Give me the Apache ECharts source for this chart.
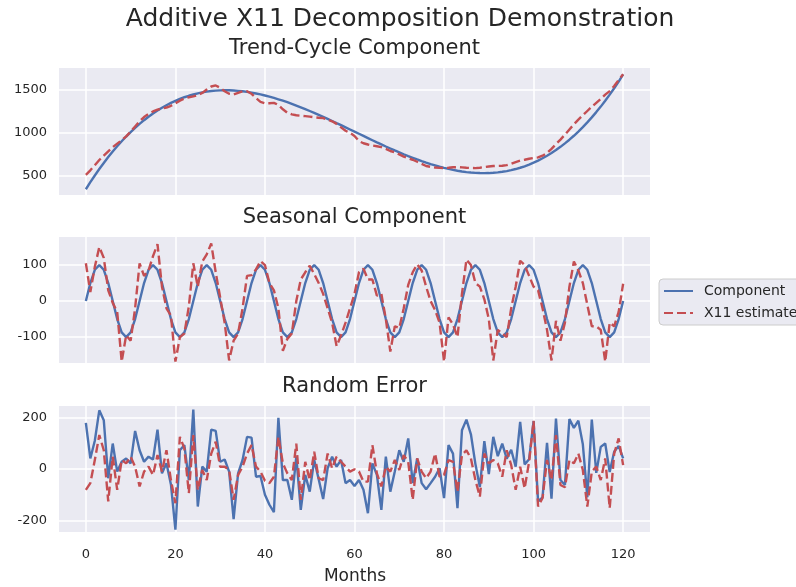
<!DOCTYPE html>
<html><head><meta charset="utf-8">
<script src="https://cdn.jsdelivr.net/npm/echarts@6/dist/echarts.min.js"></script>
<style>html,body{margin:0;padding:0;background:#fff}#c{width:796px;height:587px}</style>
</head><body><div id="c"></div>
<script>
// Months 0..120
const months = [];
for (let m = 0; m <= 120; m++) months.push(m);
const xTicks = [0, 20, 40, 60, 80, 100, 120];

const trendComponent = [340,422,500,575,646,714,779,840,898,953,1005,1054,1100,1143,1183,1221,1255,1287,1317,1344,1368,1390,1410,1427,1442,1455,1466,1475,1482,1487,1490,1491,1491,1488,1484,1479,1472,1464,1454,1443,1430,1417,1402,1386,1370,1352,1333,1313,1293,1272,1250,1228,1205,1182,1158,1134,1109,1085,1060,1035,1010,985,960,935,910,885,861,837,814,791,769,747,726,706,686,667,649,632,617,602,588,576,565,555,546,539,534,530,528,527,528,531,536,543,551,562,575,590,607,627,649,673,700,730,762,796,833,874,916,962,1011,1063,1118,1176,1237,1301,1369,1440,1515,1592,1675];
const trendEstimate = [508,560,620,680,730,780,830,870,910,955,1010,1070,1130,1180,1215,1245,1265,1280,1290,1310,1340,1370,1395,1410,1420,1435,1460,1500,1535,1547,1520,1480,1450,1442,1460,1478,1480,1450,1400,1355,1340,1340,1345,1320,1270,1230,1210,1200,1195,1190,1185,1178,1172,1168,1150,1130,1100,1060,1020,995,960,900,875,860,848,840,830,810,785,770,745,720,700,683,660,635,610,600,592,588,586,590,595,597,594,590,587,586,590,598,605,610,612,613,620,635,655,672,683,695,703,710,730,761,810,865,917,975,1035,1095,1150,1200,1250,1300,1345,1390,1440,1481,1540,1610,1676];

const seasonalComponent = [0,50,87,100,87,50,0,-50,-87,-100,-87,-50,0,50,87,100,87,50,0,-50,-87,-100,-87,-50,0,50,87,100,87,50,0,-50,-87,-100,-87,-50,0,50,87,100,87,50,0,-50,-87,-100,-87,-50,0,50,87,100,87,50,0,-50,-87,-100,-87,-50,0,50,87,100,87,50,0,-50,-87,-100,-87,-50,0,50,87,100,87,50,0,-50,-87,-100,-87,-50,0,50,87,100,87,50,0,-50,-87,-100,-87,-50,0,50,87,100,87,50,0,-50,-87,-100,-87,-50,0,50,87,100,87,50,0,-50,-87,-100,-87,-50,0];
const seasonalEstimate = [105,25,95,150,120,30,-5,-30,-168,-95,-110,-20,105,70,85,125,158,40,-20,-40,-168,-100,-90,-15,105,40,110,130,160,80,10,-60,-165,-110,-90,-20,70,72,88,111,100,50,30,-20,-138,-105,-90,0,60,80,98,75,50,20,-20,-60,-125,-95,-60,-20,20,80,90,60,60,15,20,-50,-140,-70,-75,-20,45,80,102,85,40,0,-25,-60,-168,-45,-65,-100,20,115,100,50,40,5,-50,-165,-80,-90,-100,-20,40,112,100,70,40,30,-20,-80,-165,-55,-110,-60,40,110,85,50,-10,-70,-70,-80,-168,-60,-70,-30,48];

const errorComponent = [179,41,110,228,190,-36,99,-10,28,41,22,148,73,28,48,37,153,-17,22,-60,-236,73,93,-43,231,-146,9,-10,153,148,28,37,-10,-195,-17,35,125,122,-30,-27,-100,-139,-168,199,-43,-43,-120,48,-159,-23,-88,35,-40,-117,3,48,9,35,-55,-43,-66,-43,-81,-172,22,-23,-159,48,-88,-10,73,28,119,-55,41,-55,-79,-55,-30,3,-113,93,60,-152,151,192,135,20,-70,108,-20,125,50,99,40,75,9,183,18,38,186,-126,-110,102,-115,196,-43,-62,194,160,188,96,-110,192,-15,86,99,-12,67,90,41];
const errorEstimate = [-81,-55,35,132,73,-126,48,-81,35,22,48,9,-68,-10,9,-23,54,-10,73,-43,-133,125,80,-94,132,-81,-4,-43,60,106,9,9,-4,-120,-23,9,60,93,9,-10,-46,-55,-30,125,22,-17,-43,99,-120,28,-43,67,-36,-43,60,3,48,28,9,-10,-1,-10,-49,-49,93,-17,-68,9,-10,35,-4,54,28,-120,41,-10,-36,-10,60,-30,-23,35,28,-88,54,73,41,-43,-107,60,22,35,22,-30,73,15,-81,9,-75,28,187,-146,-113,35,-43,132,-62,-71,35,22,60,-4,-146,-10,9,-43,41,-152,60,119,15];

const trendTicks = [500, 1000, 1500];
const seasonalTicks = [-100, 0, 100];
const errorTicks = [-200, 0, 200];

const mainTitle = 'Additive X11 Decomposition Demonstration';
const panelTitles = ['Trend-Cycle Component', 'Seasonal Component', 'Random Error'];
const seriesNames = ['Component', 'X11 estimate'];
const xLabel = 'Months';

const BLUE = '#4c72b0', RED = '#c44e52', TXT = '#262626', BG = '#eaeaf2';
const FONT = 'DejaVu Sans';

function pairs(arr) { return arr.map((v, i) => [months[i], v]); }

const grids = [
  {left: 59, top: 68, width: 591, height: 127},
  {left: 59, top: 237, width: 591, height: 126},
  {left: 59, top: 406, width: 591, height: 126}
].map(g => Object.assign(g, {show: true, backgroundColor: BG, borderWidth: 0, containLabel: false}));

const yRanges = [[273, 1750, trendTicks], [-172, 178, seasonalTicks], [-245, 245, errorTicks]];

const xAxes = [0, 1, 2].map(i => ({
  type: 'value', gridIndex: i, min: -6, max: 126,
  axisLine: {show: false},
  axisTick: {show: false, customValues: xTicks},
  axisLabel: {show: i === 2, customValues: xTicks, color: TXT, fontSize: 13, fontFamily: FONT, margin: 16,
    formatter: v => String(v)},
  splitLine: {show: true, lineStyle: {color: '#ffffff', width: 1.5}}
}));
const yAxes = yRanges.map((r, i) => ({
  type: 'value', gridIndex: i, min: r[0], max: r[1],
  axisLine: {show: false},
  axisTick: {show: false, customValues: r[2]},
  axisLabel: {show: true, customValues: r[2], color: TXT, fontSize: 13, fontFamily: FONT, margin: 12,
    formatter: v => String(v)},
  splitLine: {show: true, lineStyle: {color: '#ffffff', width: 1.5}}
}));

const comps = [trendComponent, seasonalComponent, errorComponent];
const ests = [trendEstimate, seasonalEstimate, errorEstimate];
const series = [];
for (let i = 0; i < 3; i++) {
  series.push({name: seriesNames[0], type: 'line', xAxisIndex: i, yAxisIndex: i, data: pairs(comps[i]),
    symbol: 'none', lineStyle: {color: BLUE, width: 2.4}, itemStyle: {color: BLUE}, z: 2, animation: false});
  series.push({name: seriesNames[1], type: 'line', xAxisIndex: i, yAxisIndex: i, data: pairs(ests[i]),
    symbol: 'none', lineStyle: {color: RED, width: 2.4, type: [9, 4]}, itemStyle: {color: RED}, z: 3, animation: false});
}

const titleY = [49, 218, 387];
const graphics = [
  {type: 'text', x: 400, y: 19, style: {text: mainTitle, fill: TXT, font: '25px "DejaVu Sans"', textAlign: 'center', textVerticalAlign: 'middle'}},
  {type: 'text', x: 355, y: 577, style: {text: xLabel, fill: TXT, font: '17px "DejaVu Sans"', textAlign: 'center', textVerticalAlign: 'middle'}}
];
panelTitles.forEach((t, i) => graphics.push({type: 'text', x: 354.5, y: titleY[i],
  style: {text: t, fill: TXT, font: '21px "DejaVu Sans"', textAlign: 'center', textVerticalAlign: 'middle'}}));

const chart = echarts.init(document.getElementById('c'));
chart.setOption({
  animation: false,
  backgroundColor: '#ffffff',
  grid: grids,
  xAxis: xAxes,
  yAxis: yAxes,
  legend: {
    data: seriesNames, orient: 'vertical', left: 659, top: 279,
    itemWidth: 29, itemHeight: 12, itemGap: 8, padding: [5, 10, 5, 4],
    backgroundColor: BG, borderColor: '#cccccc', borderWidth: 1, borderRadius: 4,
    itemStyle: {opacity: 0},
    textStyle: {color: TXT, fontSize: 14, fontFamily: FONT, padding: [0, 0, 0, 6]}
  },
  graphic: graphics,
  series: series
});
</script></body></html>
